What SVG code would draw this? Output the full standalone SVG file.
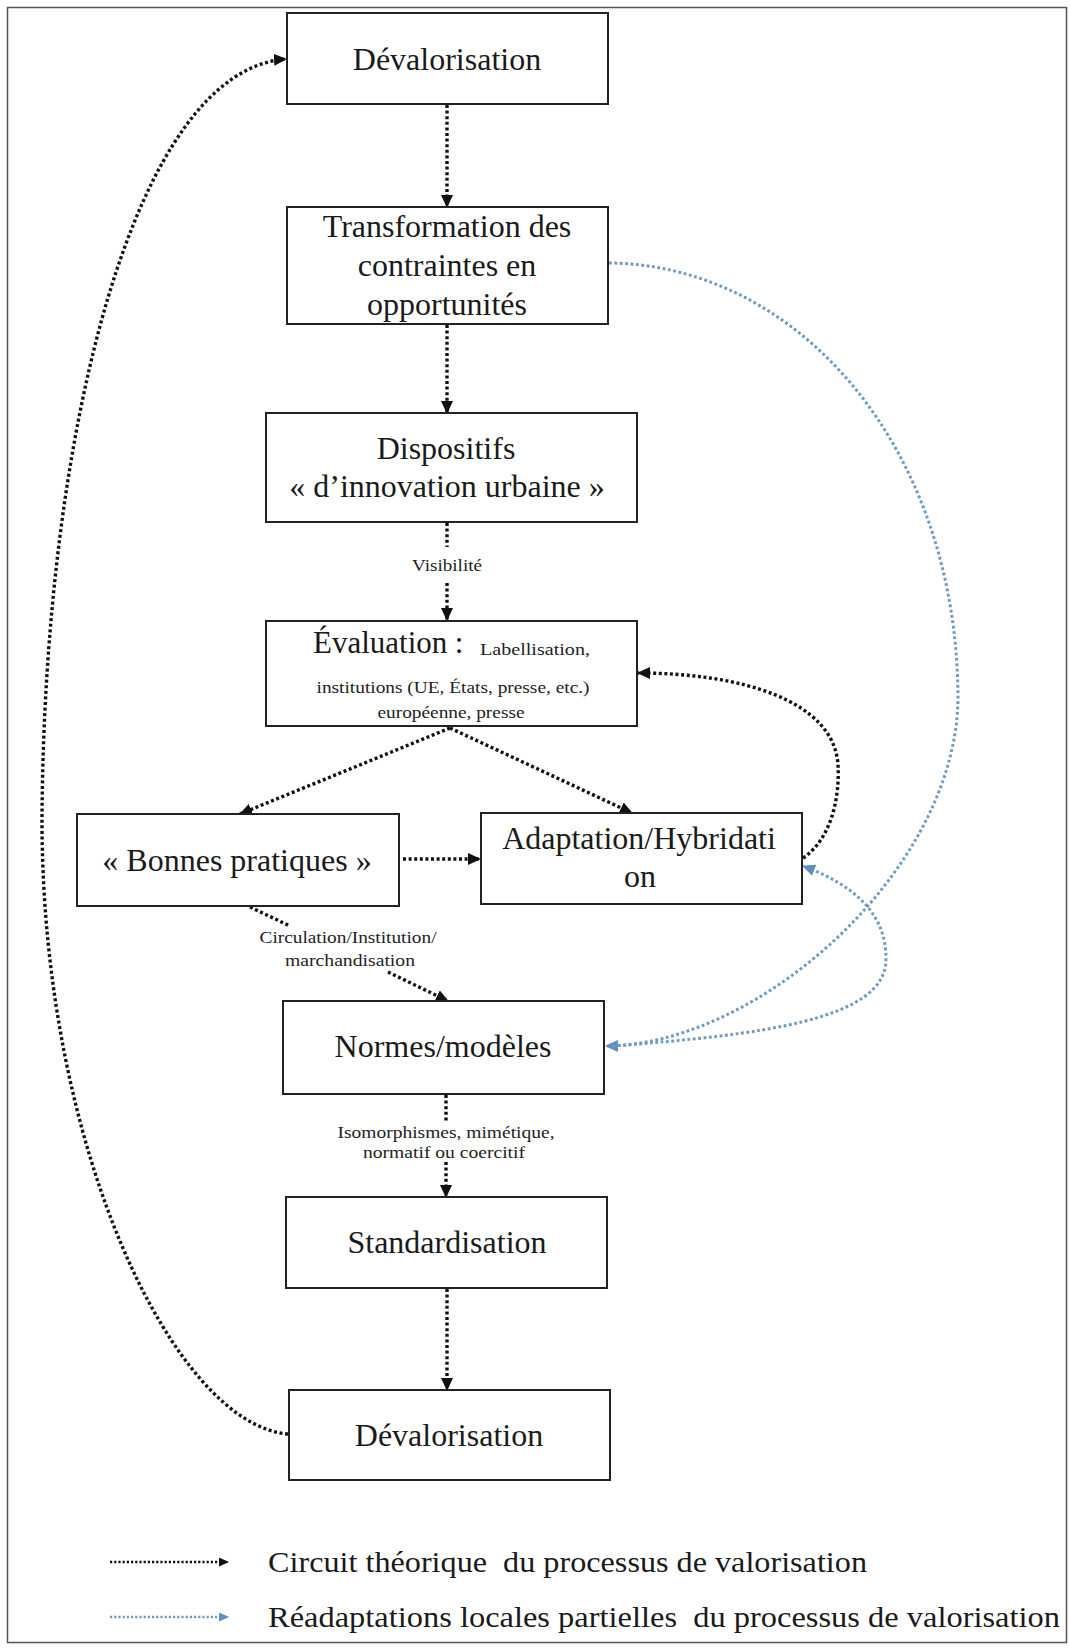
<svg xmlns="http://www.w3.org/2000/svg" width="1070" height="1648" viewBox="0 0 1070 1648">
<style>
.box{fill:#fff;stroke:#222;stroke-width:2}
.t{font-family:"Liberation Serif","Times New Roman",serif;font-size:32px;fill:#1a1a1a;text-anchor:middle}
.s{font-family:"Liberation Serif","Times New Roman",serif;font-size:16px;fill:#222;text-anchor:middle}
.lg{font-family:"Liberation Serif","Times New Roman",serif;font-size:29px;fill:#1a1a1a}
.k{fill:none;stroke:#111;stroke-width:3.4;stroke-dasharray:3 2.6}
.b{fill:none;stroke:#6e9ac4;stroke-width:3;stroke-dasharray:2.8 2.6}
</style>
<defs>
<marker id="ak" viewBox="0 0 13 12" refX="12" refY="6" markerWidth="13" markerHeight="12" orient="auto" markerUnits="userSpaceOnUse"><path d="M0,0 L13,6 L0,12 z" fill="#111"/></marker>
<marker id="ab" viewBox="0 0 13 12" refX="12" refY="6" markerWidth="13" markerHeight="12" orient="auto" markerUnits="userSpaceOnUse"><path d="M0,0 L13,6 L0,12 z" fill="#5d8fc2"/></marker>
<marker id="akl" viewBox="0 0 10 9" refX="9" refY="4.5" markerWidth="10" markerHeight="9" orient="auto" markerUnits="userSpaceOnUse"><path d="M0,0 L10,4.5 L0,9 z" fill="#111"/></marker>
<marker id="abl" viewBox="0 0 10 9" refX="9" refY="4.5" markerWidth="10" markerHeight="9" orient="auto" markerUnits="userSpaceOnUse"><path d="M0,0 L10,4.5 L0,9 z" fill="#5d8fc2"/></marker>
</defs>
<rect x="0" y="0" width="1070" height="1648" fill="#fff"/>
<rect x="7.5" y="7.5" width="1059" height="1635" fill="none" stroke="#555" stroke-width="1.5"/>

<g id="connectors">
<line class="k" x1="447" y1="105" x2="447" y2="207" marker-end="url(#ak)"/>
<line class="k" x1="447" y1="325" x2="447" y2="413" marker-end="url(#ak)"/>
<line class="k" x1="447" y1="523" x2="447" y2="547"/>
<line class="k" x1="447" y1="583" x2="447" y2="620" marker-end="url(#ak)"/>
<line class="k" x1="450" y1="728" x2="240" y2="814" marker-end="url(#ak)"/>
<line class="k" x1="450" y1="728" x2="632" y2="813" marker-end="url(#ak)"/>
<line class="k" x1="403" y1="859" x2="480" y2="859" marker-end="url(#ak)"/>
<line class="k" x1="250" y1="907" x2="290" y2="926"/>
<line class="k" x1="388" y1="972" x2="448" y2="1001" marker-end="url(#ak)"/>
<line class="k" x1="446" y1="1095" x2="446" y2="1121"/>
<line class="k" x1="446" y1="1162" x2="446" y2="1197" marker-end="url(#ak)"/>
<line class="k" x1="447" y1="1289" x2="447" y2="1390" marker-end="url(#ak)"/>
<path class="k" d="M288 1434 C175 1425 42 1150 42 820 C44 430 135 70 286 59" marker-end="url(#ak)"/>
<path class="k" d="M803 858 C830 840 840 800 838 765 C834 700 740 673 638 673" marker-end="url(#ak)"/>
<path class="b" d="M609 263 C800 265 958 450 958 700 C955 870 760 1045 606 1046" marker-end="url(#ab)"/>
<path class="b" d="M612 1046 C760 1035 885 1020 886 960 C887 905 840 880 803 866" marker-end="url(#ab)"/>
</g>

<g id="n-devalorisation-top">
<rect class="box" x="287" y="13" width="321" height="91"/>
<text class="t" x="447" y="70">Dévalorisation</text>
</g>
<g id="n-transformation">
<rect class="box" x="287" y="207" width="321" height="117"/>
<text class="t" x="447" y="237">Transformation des</text>
<text class="t" x="447" y="276">contraintes en</text>
<text class="t" x="447" y="315">opportunités</text>
</g>
<g id="n-dispositifs">
<rect class="box" x="266" y="413" width="371" height="109"/>
<text class="t" x="446" y="459">Dispositifs</text>
<text class="t" x="447" y="497">« d’innovation urbaine »</text>
</g>
<g id="n-evaluation">
<rect class="box" x="266" y="621" width="371" height="105"/>
<text class="t" x="313" y="653" style="text-anchor:start;font-size:31px">Évaluation</text>
<text class="t" x="459" y="653" style="font-size:31px">:</text>
<text class="s" x="480" y="655" style="text-anchor:start;font-size:17px" textLength="110" lengthAdjust="spacingAndGlyphs">Labellisation,</text>
<text class="s" x="453" y="693" style="font-size:17px" textLength="273" lengthAdjust="spacingAndGlyphs">institutions (UE, États, presse, etc.)</text>
<text class="s" x="451" y="718" style="font-size:16px" textLength="147" lengthAdjust="spacingAndGlyphs">européenne, presse</text>
</g>
<g id="n-bonnes-pratiques">
<rect class="box" x="77" y="814" width="322" height="92"/>
<text class="t" x="237" y="871">« Bonnes pratiques »</text>
</g>
<g id="n-adaptation">
<rect class="box" x="481" y="813" width="321" height="91"/>
<text class="t" x="639" y="849">Adaptation/Hybridati</text>
<text class="t" x="640" y="887">on</text>
</g>
<g id="n-normes">
<rect class="box" x="283" y="1001" width="321" height="93"/>
<text class="t" x="443" y="1057">Normes/modèles</text>
</g>
<g id="n-standardisation">
<rect class="box" x="286" y="1197" width="321" height="91"/>
<text class="t" x="447" y="1253">Standardisation</text>
</g>
<g id="n-devalorisation-bottom">
<rect class="box" x="289" y="1390" width="321" height="90"/>
<text class="t" x="449" y="1446">Dévalorisation</text>
</g>

<g id="edge-labels">
<text class="s" x="447" y="571" textLength="70" lengthAdjust="spacingAndGlyphs">Visibilité</text>
<text class="s" x="348" y="943" textLength="177" lengthAdjust="spacingAndGlyphs">Circulation/Institution/</text>
<text class="s" x="350" y="966" textLength="130" lengthAdjust="spacingAndGlyphs">marchandisation</text>
<text class="s" x="446" y="1138" textLength="217" lengthAdjust="spacingAndGlyphs">Isomorphismes, mimétique,</text>
<text class="s" x="444" y="1158" textLength="162" lengthAdjust="spacingAndGlyphs">normatif ou coercitif</text>
</g>

<g id="legend">
<line x1="110" y1="1562" x2="228" y2="1562" stroke="#111" stroke-width="2.6" stroke-dasharray="2.2 2" marker-end="url(#akl)"/>
<text class="lg" x="268" y="1572" textLength="599" lengthAdjust="spacingAndGlyphs" xml:space="preserve">Circuit théorique  du processus de valorisation</text>
<line x1="110" y1="1617" x2="228" y2="1617" stroke="#6e9ac4" stroke-width="2.6" stroke-dasharray="2.2 2" marker-end="url(#abl)"/>
<text class="lg" x="268" y="1627" textLength="792" lengthAdjust="spacingAndGlyphs" xml:space="preserve">Réadaptations locales partielles  du processus de valorisation</text>
</g>
</svg>
